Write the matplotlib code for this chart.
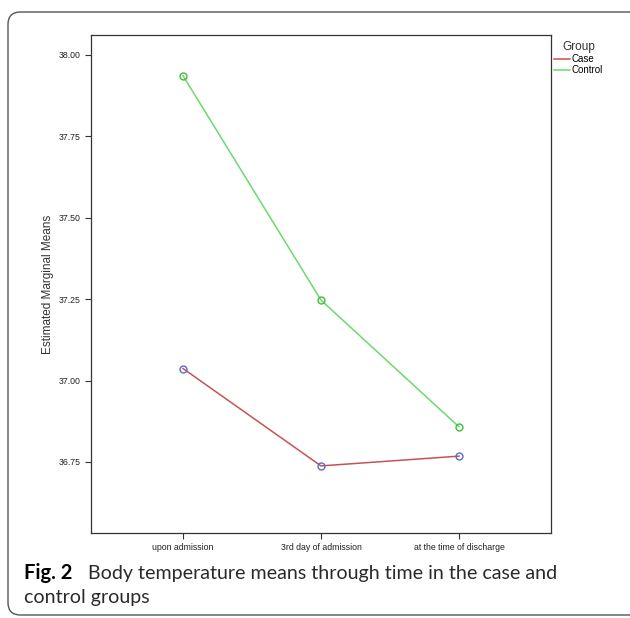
import matplotlib.pyplot as plt
from matplotlib.patches import FancyBboxPatch
from matplotlib.lines import Line2D

times = ["upon admission", "3rd day of admission", "at the time of discharge"]
case_means = [37.037, 36.738, 36.768]
control_means = [37.936, 37.247, 36.858]
y_ticks = [36.75, 37.00, 37.25, 37.50, 37.75, 38.00]

case_line = "#c65353"
control_line = "#6cd96c"
case_marker = "#5a6ccc"
control_marker = "#3cbf3c"

fig = plt.figure(figsize=(6.3, 6.18), dpi=100)

# rounded panel border, runs off the right edge like the journal figure
panel = FancyBboxPatch((8 / 630, 3 / 618), 640 / 630, 603 / 618,
                       boxstyle="round,pad=0,rounding_size=0.02",
                       transform=fig.transFigure, fill=False,
                       edgecolor="#555555", linewidth=1.0)
fig.patches.append(panel)

ax = fig.add_axes([91 / 630, 1 - 533 / 618, 460 / 630, 498 / 618])
x = list(range(len(times)))
ax.plot(x, case_means, color=case_line, linewidth=1.1,
        marker="o", markersize=5, markerfacecolor="none",
        markeredgecolor=case_marker, markeredgewidth=1.0)
ax.plot(x, control_means, color=control_line, linewidth=1.1,
        marker="o", markersize=5, markerfacecolor="none",
        markeredgecolor=control_marker, markeredgewidth=1.0)

ax.set_xlim(-0.667, 2.667)
ax.set_ylim(36.532, 38.061)
ax.set_xticks(x, times)
ax.set_yticks(y_ticks, [f"{v:.2f}" for v in y_ticks])
ax.tick_params(labelsize=6.3, length=4, width=0.8, colors="#333333",
               labelcolor="#222222")
for lbl in ax.get_xticklabels() + ax.get_yticklabels():
    lbl.set_family("Liberation Sans")
for s in ax.spines.values():
    s.set_color("#333333")
    s.set_linewidth(0.9)
ax.set_ylabel("Estimated Marginal Means", fontsize=8.5, family="Liberation Sans",
              color="#333333", labelpad=3)

handles = [Line2D([], [], color=case_line, linewidth=1.1),
           Line2D([], [], color=control_line, linewidth=1.1)]
leg = ax.legend(handles, ["Case", "Control"], title="Group",
                loc="upper left", bbox_to_anchor=(0.997, 0.995),
                frameon=False, handlelength=1.7, handletextpad=0.2,
                borderaxespad=0, labelspacing=0.1,
                prop={"family": "Liberation Sans", "size": 7})
leg.get_title().set_fontsize(8.5)
leg.get_title().set_family("Liberation Sans")
leg.get_title().set_color("#333333")

cap_y1 = 1 - 573 / 618
cap_y2 = 1 - 598 / 618
fig.text(24 / 630, cap_y1, "Fig. 2", fontsize=14.5, family="Lato",
         weight="bold", va="center", ha="left")
fig.text(88 / 630, cap_y1,
         "Body temperature means through time in the case and",
         fontsize=14.1, family="Lato", va="center", ha="left",
         color="#2a2a2a")
fig.text(24 / 630, cap_y2, "control groups", fontsize=14.1,
         family="Lato", va="center", ha="left", color="#2a2a2a")

fig.savefig("out.png", dpi=100)
